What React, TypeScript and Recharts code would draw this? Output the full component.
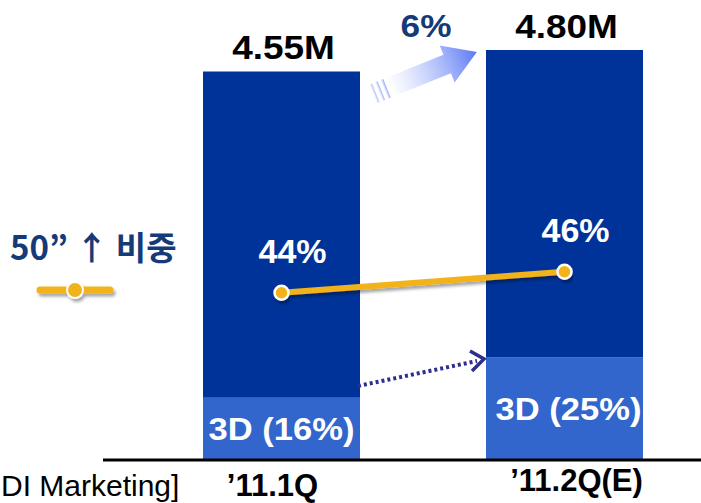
import React from "react";
import {
    ComposedChart,
    Bar,
    Line,
    XAxis,
    YAxis,
    LabelList,
} from "recharts";

const categories = ["’11.1Q", "’11.2Q(E)"];
const totalUnits = [4.55, 4.8]; // M units
const share3D = [16, 25]; // %
const share50 = [44, 46]; // % of 50" and above
const totalLabels = ["4.55M", "4.80M"];

const chartData = categories.map((c, i) => {
    const threeD = (totalUnits[i] * share3D[i]) / 100;
    return {
        name: c,
        threeD,
        rest: totalUnits[i] - threeD,
        share50: share50[i],
        totalLabel: totalLabels[i],
        label3D: `3D (${share3D[i]}%)`,
    };
});

const FONT = '"Liberation Sans", Arial, sans-serif';
const DARK = "#003399";
const LIGHT = "#3366CC";
const ORANGE = "#F2B21A";
const NAVY = "#153A78";

const XTick = (props: any) => {
    const { x, y, payload, index } = props;
    const dy = index === 0 ? 28 : 23;
    const dx = index === 0 ? -9 : 12;
    return (
        <text
            x={x + dx}
            y={y + dy}
            textAnchor="middle"
            fontFamily={FONT}
            fontWeight="bold"
            fontSize={31}
            fill="#000"
        >
            {payload.value}
        </text>
    );
};

// wide bold label, the source artwork is stretched a little horizontally
const WideText = ({ x, y, children, size, fill, sx = 1.1 }: any) => (
    <text
        x={0}
        y={0}
        transform={`translate(${x},${y}) scale(${sx},1)`}
        textAnchor="middle"
        fontFamily={FONT}
        fontWeight="bold"
        fontSize={size}
        fill={fill}
    >
        {children}
    </text>
);

const SideLegend = () => (
    <div
        style={{
            position: "absolute",
            left: 10,
            top: 226,
            fontFamily: '"Noto Sans CJK KR", "Liberation Sans", sans-serif',
        }}
    >
        <div style={{ color: NAVY, fontWeight: 700, fontSize: 33, lineHeight: "40px", whiteSpace: "nowrap" }}>
            50” ↑ 비중
        </div>
        <svg width={90} height={30} style={{ display: "block", marginLeft: 26, marginTop: 12 }}>
            <defs>
                <filter id="lgShadow" x="-20%" y="-50%" width="140%" height="200%">
                    <feDropShadow dx="2" dy="3" stdDeviation="1.5" floodColor="#000" floodOpacity="0.35" />
                </filter>
            </defs>
            <g filter="url(#lgShadow)">
                <line x1={4} y1={12} x2={74} y2={12} stroke={ORANGE} strokeWidth={7} strokeLinecap="round" />
                <circle cx={39} cy={12} r={8} fill={ORANGE} stroke="#fff" strokeWidth={2} />
            </g>
        </svg>
    </div>
);

export default function App() {
    return (
        <div style={{ position: "absolute", left: 0, top: 0, width: 701, height: 503, overflow: "hidden", background: "#fff" }}>
            <ComposedChart
                width={720}
                height={503}
                data={chartData}
                margin={{ top: 33, right: 14, left: 103, bottom: 0 }}
            >
                <defs>
                    <filter id="lineShadow" x="-10%" y="-50%" width="120%" height="200%">
                        <feDropShadow dx="2" dy="3" stdDeviation="1.5" floodColor="#000" floodOpacity="0.35" />
                    </filter>
                </defs>
                <XAxis
                    dataKey="name"
                    padding={{ left: 37, right: 0 }}
                    axisLine={{ stroke: "#000", strokeWidth: 3 }}
                    tickLine={false}
                    tick={<XTick />}
                    height={43}
                    interval={0}
                />
                <YAxis yAxisId="units" hide domain={[0, 5]} />
                <YAxis yAxisId="share" hide orientation="right" domain={[28.1, 68.7]} />
                <Bar yAxisId="units" dataKey="threeD" stackId="a" fill={LIGHT} barSize={157} isAnimationActive={false}>
                    <LabelList
                        dataKey="label3D"
                        content={(p: any) => (
                            <WideText
                                x={p.x + p.width / 2 + (p.index === 1 ? 4 : 0)}
                                y={p.y + p.height / 2 + 11}
                                size={32}
                                sx={1.08}
                                fill="#fff"
                            >
                                {p.value}
                            </WideText>
                        )}
                    />
                </Bar>
                <Bar yAxisId="units" dataKey="rest" stackId="a" fill={DARK} barSize={157} isAnimationActive={false}>
                    <LabelList
                        dataKey="totalLabel"
                        content={(p: any) => (
                            <WideText x={p.x + p.width / 2 + 2} y={p.y - 12} size={33} sx={1.12} fill="#000">
                                {p.value}
                            </WideText>
                        )}
                    />
                </Bar>
                <Line
                    yAxisId="share"
                    dataKey="share50"
                    stroke={ORANGE}
                    strokeWidth={6}
                    filter="url(#lineShadow)"
                    dot={{ r: 7, fill: ORANGE, stroke: "#fff", strokeWidth: 2.5 }}
                    activeDot={false}
                    isAnimationActive={false}
                >
                    <LabelList
                        dataKey="share50"
                        content={(p: any) => (
                            <WideText x={p.x + 11} y={p.y - 30} size={34} sx={1} fill="#fff">
                                {`${p.value}%`}
                            </WideText>
                        )}
                    />
                </Line>
            </ComposedChart>

            <SideLegend />

            {/* annotations */}
            <svg width={701} height={503} style={{ position: "absolute", left: 0, top: 0, pointerEvents: "none" }}>
                <defs>
                    <linearGradient id="growGrad" x1="0" y1="0" x2="1" y2="0">
                        <stop offset="0" stopColor="#ffffff" stopOpacity={0.6} />
                        <stop offset="1" stopColor="#5a78f5" />
                    </linearGradient>
                </defs>
                <WideText x={426} y={37} size={32} sx={1.1} fill={NAVY}>
                    6%
                </WideText>
                <g transform="translate(373,94) rotate(-22)">
                    <rect x={0} y={-10} width={3} height={20} fill="url(#growGrad)" opacity={0.5} />
                    <rect x={6} y={-10} width={3} height={20} fill="url(#growGrad)" opacity={0.6} />
                    <rect x={12} y={-10} width={3} height={20} fill="url(#growGrad)" opacity={0.7} />
                    <polygon
                        points="18,-10 80,-10 80,-20 112,0 80,20 80,10 18,10"
                        fill="url(#growGrad)"
                    />
                </g>
                <line x1={358} y1={386} x2={477} y2={361} stroke="#2E2E8E" strokeWidth={4} strokeDasharray="3 3" />
                <polyline points="470,351 484,359 472,371" fill="none" stroke="#2E2E8E" strokeWidth={3.5} />
                <text x={1} y={496} fontFamily={FONT} fontSize={30} fill="#000">
                    DI Marketing]
                </text>
            </svg>
        </div>
    );
}
